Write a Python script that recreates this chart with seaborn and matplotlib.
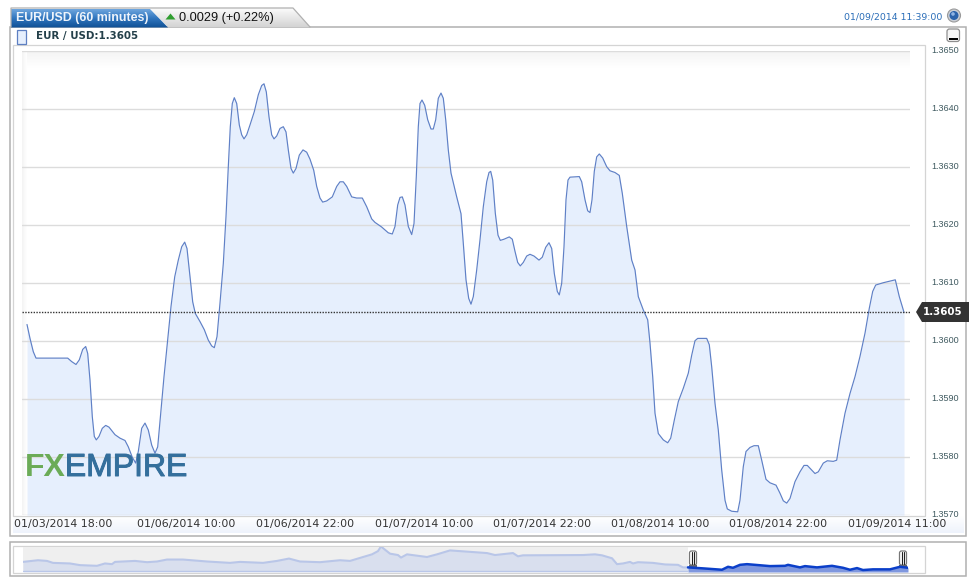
import numpy as np
import pandas as pd
import seaborn as sns
import matplotlib.pyplot as plt
import matplotlib.patheffects as pe
from matplotlib.colors import LinearSegmentedColormap
from matplotlib.patches import Polygon, Rectangle, FancyBboxPatch, Circle
from matplotlib.transforms import ScaledTranslation

W, H = 976, 585

# main series (position along the axis, price)
bar_pos = [0.0, 0.3, 0.63, 0.9, 2.13, 4.07, 4.47, 4.9, 5.23, 5.57, 5.87, 6.07, 6.3, 6.53, 6.73, 6.93, 7.2, 7.53, 7.87,
           8.2, 8.8, 9.3, 9.8, 10.13, 10.53, 10.87, 11.13, 11.47, 11.8, 12.13, 12.47, 12.8, 13.07, 13.37, 13.7, 14.07,
           14.4, 14.77, 15.13, 15.47, 15.77, 16.0, 16.3, 16.57, 16.83, 17.3, 17.73, 18.13, 18.47, 18.73, 19.0, 19.3,
           19.63, 19.9, 20.13, 20.33, 20.53, 20.73, 20.97, 21.23, 21.47, 21.7, 21.97, 22.3, 22.73, 23.13, 23.47, 23.7,
           23.93, 24.2, 24.47, 24.7, 24.97, 25.3, 25.63, 25.9, 26.13, 26.4, 26.63, 26.9, 27.23, 27.6, 27.97, 28.3,
           28.67, 28.97, 29.3, 29.57, 29.97, 30.53, 30.97, 31.3, 31.63, 31.97, 32.47, 32.97, 33.53, 33.97, 34.47, 34.8,
           35.47, 36.13, 36.53, 36.8, 37.07, 37.3, 37.53, 37.8, 38.13, 38.47, 38.7, 38.93, 39.13, 39.3, 39.5, 39.77,
           40.07, 40.4, 40.63, 40.87, 41.13, 41.4, 41.63, 41.87, 42.13, 42.4, 42.97, 43.4, 43.63, 43.9, 44.17, 44.4,
           44.63, 44.97, 45.3, 45.63, 45.97, 46.2, 46.37, 46.57, 46.83, 47.1, 47.33, 47.7, 48.23, 48.53, 48.8, 49.07,
           49.33, 49.63, 49.97, 50.3, 50.7, 51.2, 51.53, 51.87, 52.2, 52.47, 52.73, 53.03, 53.23, 53.47, 53.7, 53.9,
           54.1, 54.3, 55.23, 55.47, 55.8, 56.07, 56.3, 56.5, 56.73, 56.97, 57.23, 57.57, 57.97, 58.3, 58.8, 59.23,
           59.53, 59.97, 60.47, 60.8, 61.13, 61.63, 62.07, 62.3, 62.57, 62.8, 63.13, 63.63, 64.07, 64.37, 64.73, 65.13,
           65.63, 66.13, 66.47, 66.8, 67.07, 67.97, 68.23, 68.47, 68.8, 69.13, 69.47, 69.8, 70.03, 70.47, 71.07, 71.3,
           71.63, 71.9, 72.3, 72.7, 73.13, 73.47, 73.9, 74.3, 74.9, 75.3, 75.63, 75.97, 76.3, 76.8, 77.3, 77.7, 78.03,
           78.47, 78.8, 79.13, 79.63, 80.03, 80.63, 80.97, 81.3, 81.8, 82.3, 82.8, 83.3, 83.8, 84.23, 84.57, 84.87,
           85.63, 86.83, 87.23, 87.7]
price = [1.36029, 1.36005, 1.35982, 1.35971, 1.35971, 1.35971, 1.35965, 1.3596, 1.35968, 1.35986, 1.35991, 1.35979,
         1.35933, 1.3587, 1.35836, 1.3583, 1.35836, 1.3585, 1.35855, 1.35852, 1.35839, 1.35833, 1.35829, 1.35818, 1.358,
         1.3579, 1.3581, 1.3585, 1.35859, 1.35847, 1.35821, 1.35807, 1.35818, 1.35876, 1.35939, 1.36002, 1.3606,
         1.36111, 1.3614, 1.36163, 1.36171, 1.3616, 1.36111, 1.36068, 1.36048, 1.36034, 1.3602, 1.36002, 1.35992,
         1.35989, 1.36008, 1.36066, 1.36134, 1.36215, 1.36301, 1.3637, 1.3641, 1.3642, 1.3641, 1.36373, 1.36356,
         1.36349, 1.36356, 1.36373, 1.36396, 1.36425, 1.36441, 1.36444, 1.3643, 1.36387, 1.36356, 1.36349, 1.36354,
         1.36367, 1.3637, 1.36361, 1.3633, 1.36298, 1.3629, 1.36298, 1.36321, 1.3633, 1.36326, 1.36314, 1.36295,
         1.36267, 1.36247, 1.3624, 1.36242, 1.36249, 1.36267, 1.36275, 1.36275, 1.36267, 1.36249, 1.36247, 1.36247,
         1.36232, 1.36211, 1.36205, 1.36197, 1.36187, 1.36185, 1.36198, 1.36235, 1.36248, 1.36249, 1.36235, 1.36198,
         1.36184, 1.36203, 1.36284, 1.3637, 1.3641, 1.36416, 1.36407, 1.36382, 1.36366, 1.36366, 1.36382, 1.36419,
         1.36428, 1.36419, 1.36382, 1.3633, 1.3629, 1.36249, 1.3622, 1.36169, 1.36106, 1.36074, 1.36064, 1.36077,
         1.36123, 1.36175, 1.36232, 1.36275, 1.36291, 1.36293, 1.36278, 1.36221, 1.36183, 1.36174, 1.36176, 1.3618,
         1.36176, 1.36155, 1.36136, 1.3613, 1.36136, 1.36147, 1.3615, 1.36147, 1.3614, 1.36145, 1.36162, 1.3617,
         1.3616, 1.36117, 1.36086, 1.3608, 1.361, 1.36163, 1.36244, 1.36278, 1.36283, 1.36284, 1.36275, 1.36244,
         1.36225, 1.36222, 1.36244, 1.36293, 1.36318, 1.36323, 1.36316, 1.36301, 1.36294, 1.36291, 1.36286, 1.36255,
         1.36198, 1.3614, 1.36123, 1.36077, 1.36054, 1.36037, 1.35997, 1.35939, 1.35876, 1.35841, 1.3583, 1.35825,
         1.35833, 1.35864, 1.35896, 1.35919, 1.35945, 1.35976, 1.36001, 1.36005, 1.36005, 1.35994, 1.35956, 1.35893,
         1.35847, 1.35778, 1.35726, 1.35711, 1.35707, 1.35706, 1.35726, 1.35784, 1.3581, 1.35817, 1.3582, 1.3582,
         1.35795, 1.35762, 1.35756, 1.35752, 1.35738, 1.35725, 1.35721, 1.35729, 1.35758, 1.35775, 1.35786, 1.35786,
         1.35778, 1.35772, 1.35775, 1.3579, 1.35794, 1.35793, 1.35795, 1.3583, 1.35876, 1.3591, 1.35939, 1.35974,
         1.36014, 1.36057, 1.36086, 1.36097, 1.36101, 1.36106, 1.36077, 1.3605]

x_tick_pos = [3.6, 15.95, 27.8, 39.7, 51.55, 63.35, 75.15, 87.0]
x_tick_labels = ['01/03/2014 18:00', '01/06/2014 10:00', '01/06/2014 22:00', '01/07/2014 10:00',
                 '01/07/2014 22:00', '01/08/2014 10:00', '01/08/2014 22:00', '01/09/2014 11:00']
y_ticks = [1.357, 1.358, 1.359, 1.360, 1.361, 1.362, 1.363, 1.364, 1.365]
last_price = 1.3605

# navigator series, longer history in arbitrary units
nav_pos = [23, 38, 47, 53, 70, 80, 97, 105, 112, 115, 135, 147, 157, 167, 183, 207, 230, 240, 263, 277, 289, 300, 320,
           340, 350, 372, 378, 381, 390, 398, 401, 407, 427, 437, 450, 468, 487, 495, 513, 518, 523, 583, 595, 602,
           612, 617, 623, 630, 633, 638, 653, 665, 678, 683, 688, 703, 722, 728, 733, 740, 747, 770, 785, 788, 800,
           805, 817, 832, 843, 850, 857, 863, 873, 890, 900, 908]
nav_level = [10.3, 12, 11.3, 9.3, 8.7, 7, 6.3, 8.7, 8, 10.3, 11.3, 10, 10.7, 12.7, 12.7, 10.7, 9.3, 10.3, 9.3, 11.3,
             13.7, 10.7, 10, 12, 11.3, 18, 21.3, 26, 18.7, 17.3, 14.7, 18, 15.3, 18, 22, 20.7, 19.3, 17.3, 19.3, 16,
             17, 17.3, 18, 17, 14, 8, 8.7, 10.3, 8.7, 10, 9.3, 7.7, 7.3, 4.7, 4.7, 3.7, 2.3, 5.3, 4.3, 7.3, 8, 6, 6.3,
             7.3, 4.7, 6, 4.7, 6.3, 4.3, 2.3, 4, 2, 2.7, 2.7, 5.3, 4.3]


def px_box(left, top, right, bottom):
    return [left / W, 1 - bottom / H, (right - left) / W, (bottom - top) / H]


def gradient(ax, box, colors, vertical=True, clip=None, zorder=1):
    cmap = LinearSegmentedColormap.from_list('g', colors)
    ramp = np.linspace(0, 1, 64).reshape(-1, 1) if vertical else np.linspace(0, 1, 64).reshape(1, -1)
    im = ax.imshow(ramp, cmap=cmap, extent=(box[0], box[2], box[3], box[1]), aspect='auto', zorder=zorder,
                   interpolation='bilinear', origin='upper')
    if clip is not None:
        im.set_clip_path(clip)
    return im


def draw_chrome(ax):
    # outer boxes
    ax.add_patch(Rectangle((9.5, 27), 956, 509, fc='white', ec='#b0b0b0', lw=1.1, zorder=0.5))
    ax.add_patch(Rectangle((9.5, 542), 956, 34, fc='white', ec='#b0b0b0', lw=1.1, zorder=0.5))
    gradient(ax, (13, 516, 964, 533), ['#ffffff', '#eef3fc'])
    ax.add_patch(Rectangle((13, 45), 912, 470.5, fc='white', ec='#d4d4d4', lw=0.9, zorder=1.2))
    ax.add_patch(Rectangle((13, 546), 912, 26.5, fc='white', ec='#d4d4d4', lw=0.9, zorder=1.2))

    # plot background fades
    gradient(ax, (22, 51, 910, 68), ['#f4f4f4', '#ffffff'], zorder=1.3)
    gradient(ax, (22, 51, 27, 515), ['#f3f3f3', '#ffffff'], vertical=False, zorder=1.3)

    # tabs
    grey_pts = [(150, 9), (293, 8), (310, 27), (168, 27)]
    grey = Polygon(grey_pts, closed=True, fc='none', ec='none', transform=ax.transData)
    ax.add_patch(grey)
    gradient(ax, (150, 8, 310, 27), ['#fbfbfb', '#d4d4d4'], clip=grey, zorder=2)
    ax.plot([11, 11, 293, 310], [27, 8, 8, 27], color='#b0b0b0', lw=0.9, zorder=2.2)
    blue_pts = [(11, 9), (150, 9), (168, 27.5), (11, 27.5)]
    blue = Polygon(blue_pts, closed=True, fc='none', ec='none', transform=ax.transData)
    ax.add_patch(blue)
    gradient(ax, (11, 9, 168, 28), ['#6ea6de', '#2f74bd', '#0f4f94'], clip=blue, zorder=2.1)
    ax.add_patch(Polygon([(165.5, 19.5), (175.5, 19.5), (170.5, 13.5)], closed=True, fc='#2f9e2f', ec='none',
                         zorder=3))

    # legend swatch
    ax.add_patch(Rectangle((16.5, 30), 9, 14, fc='#e6effd', ec='#5d7fc2', lw=0.9, zorder=3))

    # buttons
    ax.add_patch(Circle((954, 15.5), 6.5, fc='#c9ced6', ec='#9a9a9a', lw=0.8, zorder=3))
    ax.add_patch(Circle((954, 15.5), 4.5, fc='#2b63ab', ec='none', zorder=3.1))
    ax.add_patch(Circle((953, 14), 1.8, fc='#8fb4e4', ec='none', zorder=3.2))
    ax.add_patch(FancyBboxPatch((948, 30), 10.5, 10.5, boxstyle='round,pad=1,rounding_size=2.5', fc='#f6f6f6',
                                ec='#8f8f8f', lw=0.9, zorder=3))
    ax.add_patch(Rectangle((949, 37.5), 8.5, 2.2, fc='black', ec='none', zorder=3.1))

    # price tag
    ax.add_patch(Polygon([(916, 312), (922, 302), (969, 302), (969, 322), (922, 322)], closed=True, fc='#333333',
                         ec='none', zorder=6))

    # navigator handles
    for hx in [693, 903]:
        ax.add_patch(FancyBboxPatch((hx - 2.5, 552), 5, 12, boxstyle='round,pad=1,rounding_size=2', fc='white',
                                    ec='#777777', lw=0.9, zorder=8))
        ax.plot([hx - 1, hx - 1], [552, 564], color='#222222', lw=0.8, zorder=8.1)
        ax.plot([hx + 1, hx + 1], [552, 564], color='#222222', lw=0.8, zorder=8.1)
        ax.add_patch(Rectangle((hx - 4, 565), 8, 2.5, fc='#666666', ec='none', zorder=8))

    ax.set_xlim(0, W)
    ax.set_ylim(H, 0)


def main():
    sns.set_style('white')
    plt.rcParams['font.family'] = ['Liberation Sans', 'DejaVu Sans']

    fig = plt.figure(figsize=(W / 100, H / 100), dpi=100, facecolor='white')

    # page furniture in pixel coords
    chrome = fig.add_axes([0, 0, 1, 1], zorder=1)
    chrome.axis('off')
    draw_chrome(chrome)

    # price chart
    ax = fig.add_axes(px_box(22, 51.3, 910, 515.3), zorder=2)
    ax.patch.set_alpha(0)
    frame = pd.DataFrame({'pos': bar_pos, 'price': price})
    ax.fill_between(frame['pos'], frame['price'], 1.357, color='#e6effd', lw=0, zorder=1)
    sns.lineplot(data=frame, x='pos', y='price', estimator=None, sort=False, color='#5f80c6', lw=0.85, ax=ax, zorder=3)
    ax.axhline(last_price, color='#333333', lw=1, ls=(0, (1, 1)), zorder=4)
    ax.set_xlim(-0.5, 88.3)
    ax.set_ylim(y_ticks[0], y_ticks[-1])
    ax.yaxis.tick_right()
    ax.set_yticks(y_ticks)
    ax.set_yticklabels(['%.4f' % v for v in y_ticks], fontsize=6.5, color='#3f5a60')
    ax.set_xticks(x_tick_pos)
    ax.set_xticklabels(x_tick_labels, fontsize=7.9, color='#333333', family='DejaVu Sans')
    ax.tick_params(axis='y', length=0, pad=15)
    ax.tick_params(axis='x', length=0, pad=2.5)
    nudge = ScaledTranslation(0, 1.5 / 72, fig.dpi_scale_trans)
    for lab in ax.get_yticklabels():
        lab.set_transform(lab.get_transform() + nudge)
    ax.grid(axis='y', color='#dcdcdc', lw=1, zorder=2)
    ax.grid(axis='x', visible=False)
    ax.set_axisbelow(False)
    ax.set_xlabel('')
    ax.set_ylabel('')
    sns.despine(ax=ax, left=True, bottom=True, right=True, top=True)

    # navigator
    nav = fig.add_axes(px_box(23, 546.5, 908, 572), zorder=3)
    nav.set_facecolor('white')
    nav.add_patch(Rectangle((23, 0), 665, 26, fc='#efefef', ec='none', zorder=0))
    nav_frame = pd.DataFrame({'pos': nav_pos, 'level': nav_level})
    old = nav_frame[nav_frame['pos'] <= 688]
    recent = nav_frame[nav_frame['pos'] >= 688]
    nav.fill_between(old['pos'], old['level'], 0, color='#d9dfee', lw=0, zorder=1)
    nav.fill_between(recent['pos'], recent['level'], 0, color='#7f97de', lw=0, zorder=1)
    sns.lineplot(data=old, x='pos', y='level', estimator=None, sort=False, color='#b9c6e8', lw=1.5, ax=nav, zorder=2)
    sns.lineplot(data=recent, x='pos', y='level', estimator=None, sort=False, color='#0b3fc9', lw=1.8, ax=nav, zorder=2)
    nav.plot([23, 688], [0.8, 0.8], color='#b9c6e8', lw=1, zorder=2)
    nav.set_xlim(23, 908)
    nav.set_ylim(0, 26)
    nav.axis('off')

    # overlay for text and logo
    top = fig.add_axes([0, 0, 1, 1], zorder=4)
    top.axis('off')
    top.patch.set_alpha(0)
    top.set_xlim(0, W)
    top.set_ylim(H, 0)
    top.text(16, 18.5, 'EUR/USD (60 minutes)', color='#eef4fb', fontsize=8.9, fontweight='bold',
             family='Liberation Sans', va='center', ha='left')
    top.text(179, 18, '0.0029 (+0.22%)', color='#111111', fontsize=9.2, family='Liberation Sans', va='center',
             ha='left')
    top.text(36, 36.5, 'EUR / USD:1.3605', color='#24404a', fontsize=7.4, fontweight='bold', family='DejaVu Sans',
             va='center', ha='left')
    top.text(942, 17, '01/09/2014 11:39:00', color='#2a6db8', fontsize=6.75, family='DejaVu Sans', va='center',
             ha='right')
    top.text(943, 312, '%.4f' % last_price, color='white', fontsize=7.4, fontweight='bold', family='DejaVu Sans',
             va='center', ha='center')
    thick = [pe.withStroke(linewidth=0.7, foreground='#346f9c')]
    logo_fx = top.text(25, 468, 'FX', color='#6bab57', fontsize=23, fontweight='bold', family='Liberation Sans',
                       va='center', ha='left')
    fig.canvas.draw()
    fx_end = top.transData.inverted().transform(logo_fx.get_window_extent().get_points())[1][0]
    top.text(fx_end - 1, 468, 'EMPIRE', color='#346f9c', fontsize=23, family='Liberation Sans', va='center', ha='left',
             path_effects=thick)

    fig.savefig('out.png', dpi=100)


if __name__ == '__main__':
    main()
